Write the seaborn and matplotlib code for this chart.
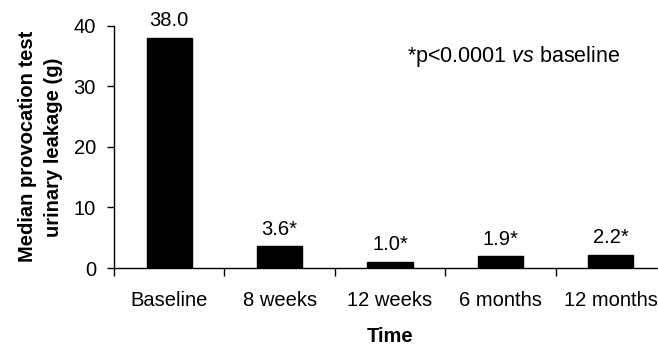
import matplotlib
matplotlib.use("Agg")
import matplotlib.pyplot as plt
import seaborn as sns
import pandas as pd
from matplotlib.ticker import FixedLocator

categories = ["Baseline", "8 weeks", "12 weeks", "6 months", "12 months"]
values = [38.0, 3.6, 1.0, 1.9, 2.2]
bar_labels = ["38.0", "3.6*", "1.0*", "1.9*", "2.2*"]
yticks = [0, 10, 20, 30, 40]

sns.set_theme(style="white")
plt.rcParams["font.family"] = ["Liberation Sans", "DejaVu Sans"]
plt.rcParams["mathtext.fontset"] = "custom"
plt.rcParams["mathtext.rm"] = "Liberation Sans"
plt.rcParams["mathtext.it"] = "Liberation Sans:italic"

FS = 14.5
W, H = 658, 345
fig = plt.figure(figsize=(W / 100, H / 100), dpi=100)
left, right_px = 114, 666
top_px, bot_px = 25.7, 268
ax = fig.add_axes([left / W, 1 - bot_px / H, (right_px - left) / W, (bot_px - top_px) / H])

df = pd.DataFrame({"cat": categories, "val": values})
sns.barplot(data=df, x="cat", y="val", color="black", width=0.41, ax=ax,
            saturation=1, edgecolor="black")

ax.set_xlim(-0.5, 4.5)
ax.set_ylim(0, 40)
ax.set_yticks(yticks)
ax.tick_params(axis="y", direction="out", length=5, width=1, color="black",
               labelsize=FS, pad=8, left=True, labelcolor="black")
ax.tick_params(axis="x", which="major", length=0, labelsize=FS, pad=16.5,
               labelcolor="black")
ax.xaxis.set_minor_locator(FixedLocator([i - 0.5 for i in range(len(categories) + 1)]))
ax.tick_params(axis="x", which="minor", direction="out", length=6, width=1,
               color="black", bottom=True)

for s in ["top", "right"]:
    ax.spines[s].set_visible(False)
for s in ["left", "bottom"]:
    ax.spines[s].set_color("black")
    ax.spines[s].set_linewidth(1)

for i, (v, lab) in enumerate(zip(values, bar_labels)):
    ax.annotate(lab, (i, v), xytext=(0, 5.5), textcoords="offset points",
                ha="center", va="bottom", fontsize=FS, color="black")

ax.text(3.123, 34.06, "*p<0.0001 $\\it{vs}$ baseline",
        ha="center", va="baseline", fontsize=15.5, color="black")

ax.set_xlabel("Time", fontsize=FS, fontweight="bold", labelpad=12.5, color="black")
ax.set_ylabel("Median provocation test\nurinary leakage (g)", fontsize=FS,
              fontweight="bold", labelpad=7.5, color="black", linespacing=1.45)

fig.savefig("out.png", dpi=100)
